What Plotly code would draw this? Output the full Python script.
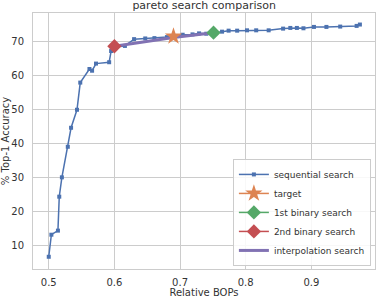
import plotly.graph_objects as go

seq_x = [0.500, 0.504, 0.514, 0.516, 0.520, 0.529, 0.534, 0.543, 0.548, 0.562, 0.566, 0.572,
         0.592, 0.595, 0.600, 0.616, 0.630, 0.647, 0.661, 0.680, 0.704, 0.719, 0.729, 0.740,
         0.751, 0.764, 0.774, 0.787, 0.802, 0.816, 0.835, 0.857, 0.868, 0.878, 0.888, 0.904,
         0.923, 0.944, 0.969, 0.974]
seq_y = [6.7, 13.2, 14.4, 24.4, 30.1, 39.1, 44.7, 50.0, 58.0, 62.0, 61.5, 63.6,
         64.0, 67.3, 68.5, 68.8, 70.8, 71.0, 71.1, 71.4, 72.1, 72.2, 72.5, 72.4,
         72.6, 73.0, 73.3, 73.3, 73.4, 73.4, 73.4, 73.9, 74.1, 74.1, 74.0, 74.4,
         74.4, 74.5, 74.7, 75.1]
target_x = [0.690]
target_y = [71.6]
bin1_x = [0.751]
bin1_y = [72.7]
bin2_x = [0.600]
bin2_y = [68.7]
interp_x = [0.600, 0.690, 0.751]
interp_y = [68.7, 71.3, 72.7]

x_ticks = [0.5, 0.6, 0.7, 0.8, 0.9]
y_ticks = [10, 20, 30, 40, 50, 60, 70]

fig = go.Figure()
fig.add_trace(go.Scatter(x=seq_x, y=seq_y, mode="lines+markers", name="sequential search",
                         line=dict(color="#4C72B0", width=1.5),
                         marker=dict(symbol="square", size=4, color="#4C72B0"), legendrank=1))
fig.add_trace(go.Scatter(x=interp_x, y=interp_y, mode="lines", name="interpolation search",
                         line=dict(color="#8172B3", width=3), legendrank=5))
fig.add_trace(go.Scatter(x=target_x, y=target_y, mode="lines+markers", name="target",
                         line=dict(color="#DD8452", width=1.5),
                         marker=dict(symbol="star", size=13, color="#DD8452"), legendrank=2))
fig.add_trace(go.Scatter(x=bin1_x, y=bin1_y, mode="lines+markers", name="1st binary search",
                         line=dict(color="#55A868", width=1.5),
                         marker=dict(symbol="diamond", size=11, color="#55A868"), legendrank=3))
fig.add_trace(go.Scatter(x=bin2_x, y=bin2_y, mode="lines+markers", name="2nd binary search",
                         line=dict(color="#C44E52", width=1.5),
                         marker=dict(symbol="diamond", size=11, color="#C44E52"), legendrank=4))

axis_common = dict(showgrid=True, gridcolor="#cccccc", gridwidth=1, zeroline=False,
                   showline=True, linecolor="#cccccc", linewidth=1, mirror=True,
                   automargin=False, tickfont=dict(size=10, color="#333333"))

fig.update_layout(
    width=376, height=298,
    margin=dict(l=33, r=1, t=13, b=29),
    paper_bgcolor="white", plot_bgcolor="white",
    font=dict(family="DejaVu Sans", size=10, color="#333333"),
    title=dict(text="pareto search comparison", x=0.543, xanchor="center", y=0.995, yanchor="top",
               font=dict(size=11, color="#333333")),
    xaxis=dict(range=[0.476, 0.997], tickvals=x_ticks, ticktext=[str(v) for v in x_ticks],
               ticks="outside", ticklen=4, tickcolor="rgba(0,0,0,0)",
               title=dict(text="Relative BOPs", standoff=1, font=dict(size=10)), **axis_common),
    yaxis=dict(range=[3.1, 78.5], tickvals=y_ticks, ticktext=[str(v) for v in y_ticks],
               ticks="outside", ticklen=6, tickcolor="rgba(0,0,0,0)",
               title=dict(text="% Top-1 Accuracy", standoff=1, font=dict(size=10)), **axis_common),
    legend=dict(x=0.988, y=0.012, xanchor="right", yanchor="bottom",
                bgcolor="rgba(255,255,255,0.85)", bordercolor="#cccccc", borderwidth=1,
                font=dict(size=9), itemwidth=30, tracegroupgap=0),
    showlegend=True,
)

fig.write_html("out.html", config={"displayModeBar": False},
               post_script="document.body.style.margin='0';")
